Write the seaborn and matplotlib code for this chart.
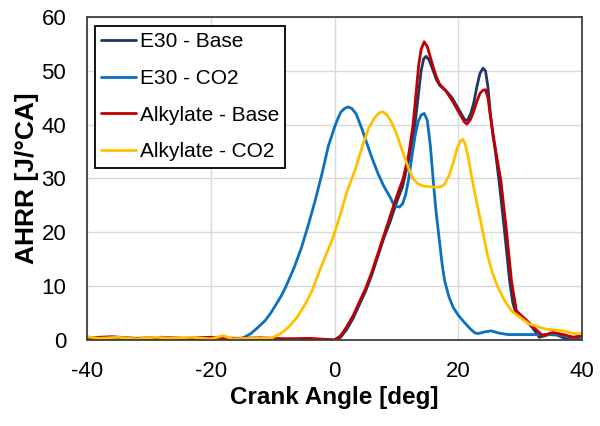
import numpy as np
import pandas as pd
import matplotlib
matplotlib.use("Agg")
import matplotlib.pyplot as plt
import seaborn as sns

# data (crank angle [deg], AHRR [J/°CA])
e30_base_x = [-40, -35, -30, -25, -20, -15, -10, -5, 0, 1, 2, 3, 4, 5, 6, 7, 8, 9, 10, 11, 12,
              12.5, 13, 13.5, 14, 14.4, 14.8, 15.3, 15.8, 16.5, 17, 18, 19, 20, 21, 21.5, 22,
              22.5, 23, 23.5, 24, 24.4, 24.8, 25.2, 25.6, 26, 26.6, 27.5, 28.3, 28.8, 29.2, 30,
              31, 32, 33.1, 34.7, 36, 37.4, 38.6, 40]
e30_base_y = [0.2, 0.1, 0.3, 0.1, 0.2, 0.1, 0.2, 0.1, 0, 0.5, 2, 4, 6.5, 9, 12, 15.5, 19, 22,
              25.5, 28.5, 33.5, 36.5, 40, 45, 50, 52.2, 52.7, 52, 50.5, 48.3, 47.3, 46.3, 45, 43,
              41, 40.8, 42, 44, 47, 49.5, 50.5, 50, 47, 42, 38, 35, 29.5, 20, 11, 7, 5.4, 4.3,
              3.5, 2.3, 0.5, 1, 0.9, 0.2, 0, 0.5]

e30_co2_x = [-40, -35, -30, -25, -22, -20, -17, -15, -14.4, -13.5, -12.5, -11.2, -10.3, -9.5,
             -8.7, -7.9, -6.5, -5.3, -4.2, -3.1, -2, -1, 0, 0.5, 1, 1.6, 2.2, 2.8, 3.5, 4, 4.5,
             5, 6, 7, 8, 9, 9.5, 10, 10.5, 11, 11.5, 12, 12.5, 13, 13.5, 14, 14.5, 15, 15.5, 16,
             16.4, 16.9, 17.4, 17.8, 18.5, 19.2, 20, 20.8, 22, 22.7, 23.3, 24.3, 25.3, 26.5, 28,
             32, 36, 38.3, 40]
e30_co2_y = [0.2, 0.1, 0.2, 0.2, 0.5, 0.3, 0.2, 0.3, 0.6, 1.2, 2.2, 3.6, 5, 6.5, 8, 9.8, 13.5,
             17.3, 21.5, 26, 31, 36, 39.5, 41, 42.3, 43, 43.3, 43, 42, 40.5, 39, 37.3, 34, 31,
             28.5, 26.5, 25.3, 24.8, 24.7, 25.3, 27, 30, 34, 37.8, 40.5, 41.8, 42.1, 40.8, 36,
             29, 24, 19, 14, 11, 8, 6, 4.6, 3.5, 2, 1.3, 1.2, 1.5, 1.7, 1.3, 1, 1, 1, 0.5, 0.5]

alk_base_x = [-40, -36, -32, -28, -24, -20, -16, -12, -8, -4, 0, 1, 2, 3, 4, 5, 6, 7, 8, 9, 10,
              11.1, 12, 12.7, 13.2, 13.6, 14, 14.5, 15, 15.5, 16, 16.5, 17, 18, 19, 20, 21, 21.4,
              22, 22.5, 23, 23.5, 24, 24.4, 24.8, 25.2, 25.8, 26.3, 26.9, 27.8, 28.6, 29.4, 30.8,
              32.5, 33.6, 35.3, 37, 38.6, 40]
alk_base_y = [0.4, 0.6, 0.3, 0.5, 0.3, 0.5, 0.3, 0.4, 0.2, 0.3, 0, 0.8, 2.5, 4.5, 7, 9.5, 12.5,
              16, 19.5, 23, 26.5, 30, 34.5, 40, 46, 51, 54, 55.4, 54.5, 52.5, 50.5, 48.8, 47.5,
              46.3, 44.5, 42.5, 40.5, 40.1, 41, 42.5, 44.3, 45.8, 46.4, 46.5, 45, 41.5, 37, 33.5,
              29.5, 20.2, 11, 5.4, 3.9, 2, 0.8, 1.4, 1, 0.5, 0.8]

alk_co2_x = [-40, -38, -35, -32, -29, -26, -23, -20, -18, -16.5, -14, -12, -10.1, -8.7, -7.4,
             -6, -4.7, -3.6, -2.6, -1.5, -0.4, 1, 2, 3.3, 4.5, 5.5, 6.5, 7.2, 7.8, 8.5, 9.2, 10,
             11, 12, 12.7, 13.5, 14.4, 16, 17, 17.7, 18.5, 19.2, 19.8, 20.3, 20.7, 21.1, 21.6,
             22.3, 23, 23.9, 24.7, 25.5, 26.4, 27.5, 28.6, 31.4, 34.2, 36.9, 38.6, 40]
alk_co2_y = [0.6, 0.3, 0.5, 0.2, 0.5, 0.3, 0.5, 0.2, 0.8, 0.2, 0.3, 0.3, 0.4, 1.2, 2.4, 4.3, 6.7,
             9.2, 12.3, 15.5, 18.5, 23.5, 27.5, 31.5, 36, 39.3, 41.3, 42.2, 42.4, 41.8, 40.5,
             38.4, 35, 31.8, 30, 29, 28.6, 28.4, 28.4, 28.8, 30.5, 33, 35.5, 36.9, 37.3, 36.5,
             34, 29.5, 25.5, 20.5, 15.9, 12.5, 9.8, 7.3, 5.4, 3, 2, 1.7, 1.2, 1.2]

series = ["E30 - Base", "E30 - CO2", "Alkylate - Base", "Alkylate - CO2"]
colors = ["#1f3864", "#0a70c0", "#c00000", "#ffc000"]

frames = []
for name, xs, ys in zip(series,
                        [e30_base_x, e30_co2_x, alk_base_x, alk_co2_x],
                        [e30_base_y, e30_co2_y, alk_base_y, alk_co2_y]):
    frames.append(pd.DataFrame({"ca": xs, "ahrr": ys, "case": name}))
df = pd.concat(frames, ignore_index=True)

sns.set_theme(style="white")
plt.rcParams["font.family"] = ["Liberation Sans", "DejaVu Sans"]
plt.rcParams["axes.unicode_minus"] = False

fig = plt.figure(figsize=(6, 4.26), dpi=100)
ax = fig.add_axes([0.145, 0.202, 0.825, 0.758])

sns.lineplot(data=df, x="ca", y="ahrr", hue="case", hue_order=series,
             palette=colors, estimator=None, linewidth=2, ax=ax)

ax.set_xlim(-40, 40)
ax.set_ylim(0, 60)
ax.set_xticks([-40, -20, 0, 20, 40])
ax.set_yticks(range(0, 61, 10))
ax.grid(True, color="#d9d9d9", linewidth=1)
ax.set_axisbelow(True)
ax.tick_params(axis="both", length=0, labelsize=16, pad=15, colors="black")
for s in ax.spines.values():
    s.set_color("#404040")
    s.set_linewidth(1.3)

ax.set_xlabel("Crank Angle [deg]", fontsize=17.5, fontweight="bold", labelpad=3, color="black")
ax.set_ylabel("AHRR [J/°CA]", fontsize=19, fontweight="bold", labelpad=2, color="black")

handles, labels = ax.get_legend_handles_labels()
leg = ax.legend(handles, labels, loc="upper left", bbox_to_anchor=(0.016, 0.972),
                borderaxespad=0, fontsize=15, frameon=True, fancybox=False,
                framealpha=1, edgecolor="black", borderpad=0.3, labelspacing=0.85,
                handlelength=1.65, handletextpad=0.2)
leg.get_frame().set_linewidth(1.3)
for t in leg.get_texts():
    t.set_color("black")

fig.savefig("out.png", dpi=100)
